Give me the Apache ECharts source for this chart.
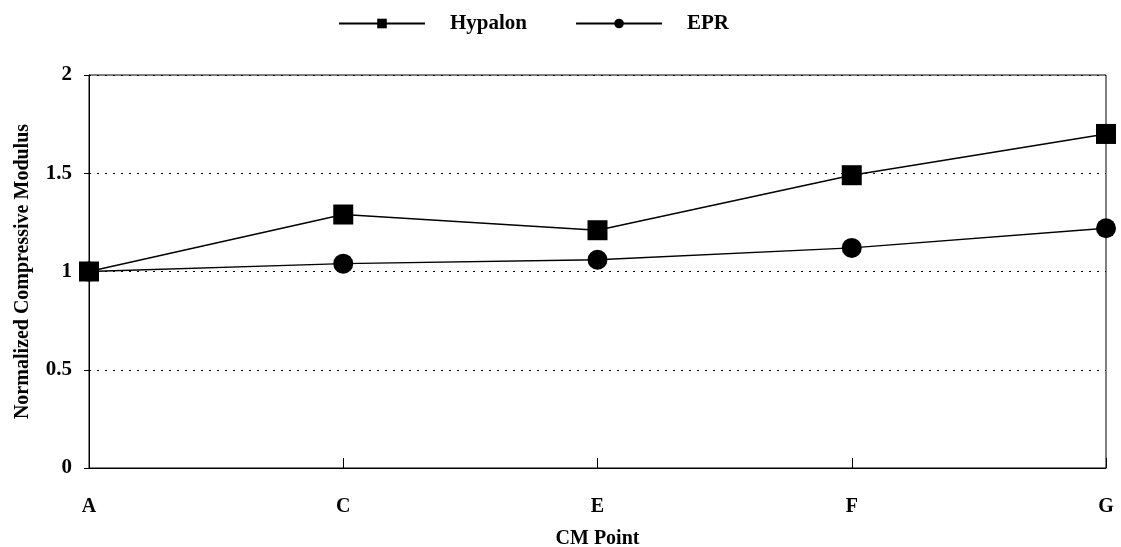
<!DOCTYPE html>
<html>
<head>
<meta charset="utf-8">
<script src="https://cdn.jsdelivr.net/npm/echarts@6/dist/echarts.min.js"></script>
<style>
  html, body { margin: 0; padding: 0; background: #fff; }
  #chart { width: 1121px; height: 547px; }
</style>
</head>
<body>
<div id="chart"></div>
<script>
var points = ['A', 'C', 'E', 'F', 'G'];
var hypalon = [1.0, 1.29, 1.21, 1.49, 1.70];
var epr = [1.0, 1.04, 1.06, 1.12, 1.22];

var font = '"Liberation Serif", "DejaVu Serif", serif';
var chart = echarts.init(document.getElementById('chart'));

var option = {
    backgroundColor: '#fff',
    animation: false,
    textStyle: { fontFamily: font, color: '#000' },
    legend: {
        top: 8,
        left: 333,
        itemWidth: 86,
        itemHeight: 12,
        itemGap: 48,
        textStyle: { fontFamily: font, fontWeight: 'bold', fontSize: 21, color: '#000', padding: [0, 0, 0, 20] },
        data: ['Hypalon', 'EPR']
    },
    grid: {
        left: 89, right: 15, top: 75, bottom: 79,
        outerBoundsMode: 'none',
        show: true,
        borderColor: '#000',
        borderWidth: 1
    },
    xAxis: {
        type: 'category',
        data: points,
        boundaryGap: false,
        name: 'CM Point',
        nameLocation: 'middle',
        nameGap: 61,
        nameTextStyle: { fontFamily: font, fontWeight: 'bold', fontSize: 20, color: '#000' },
        axisLine: { lineStyle: { color: '#000', width: 1 } },
        axisTick: { inside: true, length: 10, lineStyle: { color: '#000' } },
        axisLabel: { fontFamily: font, fontWeight: 'bold', fontSize: 20, color: '#000', margin: 29 },
        splitLine: { show: false }
    },
    yAxis: {
        type: 'value',
        min: 0, max: 2, interval: 0.5,
        name: 'Normalized Compressive Modulus',
        nameLocation: 'middle',
        nameGap: 56,
        nameTextStyle: { fontFamily: font, fontWeight: 'bold', fontSize: 20, color: '#000' },
        axisLine: { show: true, lineStyle: { color: '#000', width: 1 } },
        axisTick: { show: true, length: 5, lineStyle: { color: '#000' } },
        axisLabel: { fontFamily: font, fontWeight: 'bold', fontSize: 21, color: '#000', margin: 17 },
        splitLine: { show: true, lineStyle: { color: '#000', type: [2, 6], width: 1 } }
    },
    series: [
        {
            name: 'Hypalon',
            type: 'line',
            data: hypalon,
            symbol: 'rect',
            symbolSize: 20,
            itemStyle: { color: '#000' },
            lineStyle: { color: '#000', width: 1.4 }
        },
        {
            name: 'EPR',
            type: 'line',
            data: epr,
            symbol: 'circle',
            symbolSize: 20,
            itemStyle: { color: '#000' },
            lineStyle: { color: '#000', width: 1.4 }
        }
    ]
};

chart.setOption(option);
</script>
</body>
</html>
